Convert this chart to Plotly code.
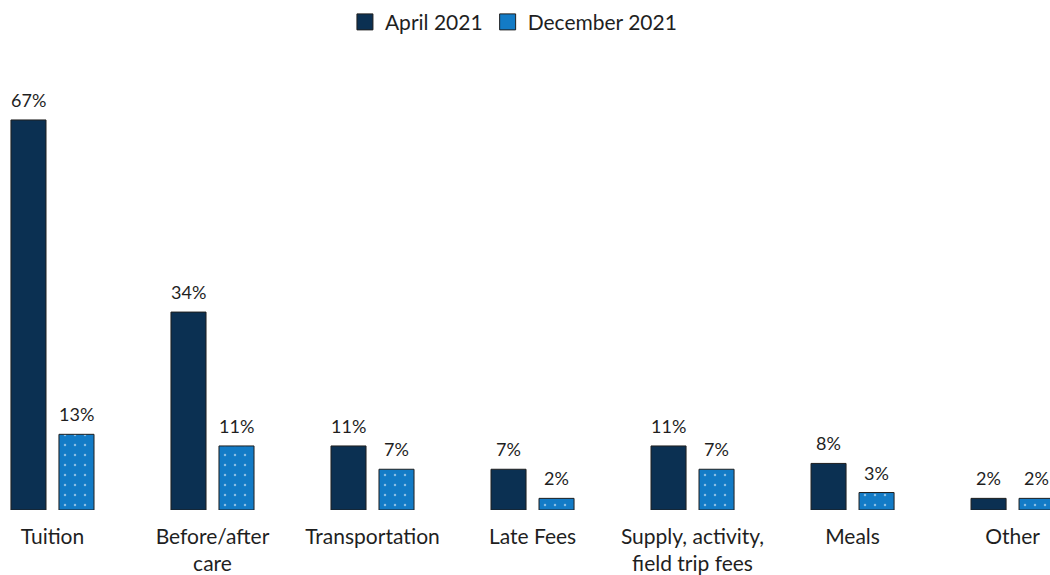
import plotly.graph_objects as go

categories = ["Tuition", "Before/after<br>care", "Transportation", "Late Fees",
              "Supply, activity,<br>field trip fees", "Meals", "Other"]
april_2021 = [67, 34, 11, 7, 11, 8, 2]
december_2021 = [13, 11, 7, 2, 7, 3, 2]
series_names = ["April 2021", "December 2021"]

NAVY = "#0b3052"
BLUE = "#137bc6"
INK = "#1f1f1f"
FONT = "Lato"

fig = go.Figure()
fig.add_trace(go.Bar(
    name=series_names[0], x=categories, y=april_2021, showlegend=False,
    marker=dict(color=NAVY, line=dict(color=INK, width=1)),
))
fig.add_trace(go.Bar(
    name=series_names[1], x=categories, y=december_2021, showlegend=False,
    marker=dict(color=BLUE, line=dict(color=INK, width=1),
                pattern=dict(shape=".", fgcolor="white", bgcolor=BLUE,
                             size=10, solidity=0.05, fillmode="overlay")),
))

# larger square swatches for the legend
for name, color in zip(series_names, (NAVY, BLUE)):
    fig.add_trace(go.Scatter(
        name=name, x=[None], y=[None], mode="markers",
        marker=dict(symbol="square", size=16, color=color,
                    line=dict(color=INK, width=1)),
    ))

# value labels above each bar
for series, shift in ((april_2021, -24), (december_2021, 24)):
    for cat, val in zip(categories, series):
        fig.add_annotation(x=cat, y=val, text=f"{val}%", showarrow=False,
                           xshift=shift, yshift=7, yanchor="bottom",
                           font=dict(family=FONT, size=18, color=INK))

fig.update_layout(
    width=1050, height=575,
    margin=dict(l=0, r=0, t=60, b=65),
    paper_bgcolor="white", plot_bgcolor="white",
    barmode="group", bargap=0.4, bargroupgap=0.27,
    font=dict(family=FONT, size=21, color=INK),
    showlegend=True,
    legend=dict(orientation="h", x=0.489, xanchor="center", y=0.997, yanchor="top",
                yref="container", font=dict(family=FONT, size=21, color=INK),
                itemwidth=30, traceorder="normal"),
    xaxis=dict(range=[-0.328, 6.234], showgrid=False, showline=False, zeroline=False,
               automargin=False, ticks="",
               tickfont=dict(family=FONT, size=21, color=INK),
               ticklabelstandoff=12),
    yaxis=dict(range=[0, 77.3], visible=False, automargin=False),
)

fig.write_html("out.html")
